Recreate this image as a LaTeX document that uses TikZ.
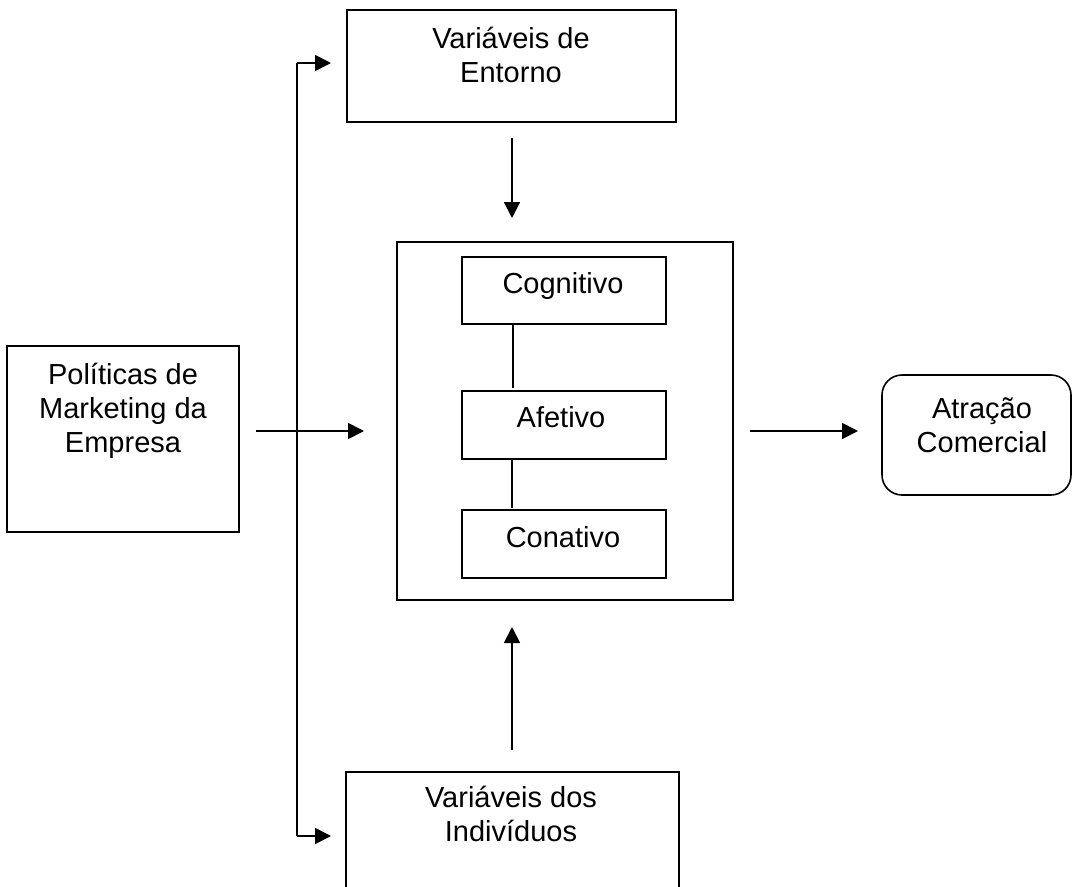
\documentclass[tikz,border=0pt]{standalone}
\usepackage{fontspec}
\setmainfont{Liberation Sans}
\usetikzlibrary{arrows.meta}
\begin{document}
\begin{tikzpicture}[x=1pt,y=-1pt,
  box/.style={draw,line width=1.6pt,inner sep=0pt,outer sep=0pt,anchor=north west},
  lbl/.style={anchor=base,align=center,inner sep=0pt,font=\fontsize{29}{34}\selectfont},
  arr/.style={line width=1.8pt,-{Triangle[length=16pt,width=16pt]}},
  link/.style={line width=1.2pt}]
\clip (0,0) rectangle (1072,887);

% boxes
\node[box,minimum width=329,minimum height=112] (env) at (347,10) {};
\node[box,minimum width=232,minimum height=186] (pol) at (7,346) {};
\node[box,minimum width=336,minimum height=358] (mid) at (397,242) {};
\node[box,minimum width=204,minimum height=67] (cog) at (462,257) {};
\node[box,minimum width=204,minimum height=68] (afe) at (462,391) {};
\node[box,minimum width=204,minimum height=68] (con) at (462,510) {};
\node[box,minimum width=333,minimum height=140] (ind) at (346,772) {};
\node[box,rounded corners=20pt,minimum width=189,minimum height=120] (atr) at (882,375) {};

% labels (base anchor sits on the last line's baseline)
\node[lbl] (tenv) at (511,82) {Variáveis de\\Entorno};
\node[lbl] (tpol) at (123,452) {Políticas de\\Marketing da\\Empresa};
\node[lbl] (tcog) at (563,293) {Cognitivo};
\node[lbl] (tafe) at (561,427) {Afetivo};
\node[lbl] (tcon) at (563,547) {Conativo};
\node[lbl] (tind) at (511,841) {Variáveis dos\\Indivíduos};
\node[lbl] (tatr) at (982,452) {Atração\\Comercial};

% helper coordinates
\coordinate (busTop) at (297,63);
\coordinate (busBot) at (297,836);
\coordinate (row) at (0,431);
\coordinate (col) at (512,0);
\coordinate (lnk) at (513,0);

% distribution bus
\draw[line width=1.8pt] (busTop) -- (busBot);
\draw[arr,shorten >=16pt] (busTop) -- (busTop -| env.west);
\draw[arr,shorten >=15pt] (busBot) -- (busBot -| ind.west);

% main flow
\draw[arr,shorten <=17pt,shorten >=33pt] (pol.east |- row) -- (mid.west |- row);
\draw[arr,shorten <=17pt,shorten >=24pt] (mid.east |- row) -- (atr.west |- row);
\draw[arr,shorten <=16pt,shorten >=24pt] (env.south -| col) -- (mid.north -| col);
\draw[arr,shorten <=22pt,shorten >=27pt] (ind.north -| col) -- (mid.south -| col);

% inner links
\draw[link,shorten >=3pt] (cog.south -| lnk) -- (afe.north -| lnk);
\draw[link,shorten >=2pt] (afe.south -| col) -- (con.north -| col);
\end{tikzpicture}
\end{document}
